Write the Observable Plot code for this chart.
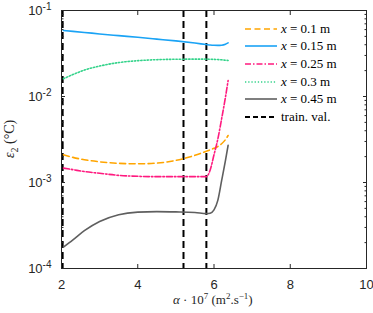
<!DOCTYPE html>
<html><head><meta charset="utf-8">
<script src="https://cdn.jsdelivr.net/npm/d3@7"></script>
<script src="https://cdn.jsdelivr.net/npm/@observablehq/plot@0.6"></script>
<style>
body{margin:0;background:#fff;}
#wrap{position:relative;width:373px;height:313px;overflow:hidden;}
#legend{position:absolute;left:245px;top:20px;font-family:"Liberation Serif","Times New Roman",serif;font-size:13px;color:#000;}
.row{height:17.6px;display:flex;align-items:center;white-space:nowrap;}
.row svg{margin-right:4px;}
.lab{position:absolute;font-family:"Liberation Serif","Times New Roman",serif;font-size:13px;color:#262626;white-space:nowrap;}
</style></head><body><div id="wrap"><div id="chart"></div><div id="legend"></div>
<div class="lab" id="xlab"><i>α</i> · 10<sup style="font-size:9px">7</sup> (m<sup style="font-size:9px">2</sup>.s<sup style="font-size:9px">−1</sup>)</div>
<div class="lab" id="ylab" style="font-size:14px"><i>ε</i><sub style="font-size:10px">2</sub> (°C)</div>
</div>
<script>
// alpha values (x axis, ×1e7 m²/s)
const alpha = [2.05, 2.3, 2.6, 3.0, 3.5, 4.0, 4.5, 5.0, 5.5, 5.8, 5.9, 6.0, 6.1, 6.2, 6.3, 6.37];
const eps_x010 = [0.00210,0.00196,0.00184,0.00174,0.00167,0.00165,0.00168,0.00181,0.00207,0.00231,0.00240,0.00250,0.00262,0.00282,0.00315,0.00352];
const eps_x015 = [0.0585,0.0572,0.0556,0.0534,0.0510,0.0488,0.0465,0.0443,0.0418,0.0402,0.0397,0.0394,0.0393,0.0395,0.0405,0.0420];
const eps_x025 = [0.00147,0.00141,0.00134,0.00128,0.00121,0.00118,0.00117,0.00117,0.00117,0.00117,0.00140,0.00210,0.00320,0.00550,0.00980,0.01530];
const eps_x030 = [0.0161,0.0180,0.0203,0.0226,0.0248,0.0261,0.0268,0.0271,0.0272,0.0272,0.0271,0.0270,0.0269,0.0267,0.0264,0.0262];
const eps_x045 = [0.000177,0.000215,0.000275,0.000352,0.000422,0.000452,0.000458,0.000455,0.000448,0.000435,0.000440,0.000480,0.000620,0.001050,0.001800,0.002700];
const trainVals = [2.03, 5.2, 5.8];

const seriesNames = ["x = 0.1 m", "x = 0.15 m", "x = 0.25 m", "x = 0.3 m", "x = 0.45 m"];
const seriesLabelsHtml = ["<i>x</i> = 0.1 m", "<i>x</i> = 0.15 m", "<i>x</i> = 0.25 m", "<i>x</i> = 0.3 m", "<i>x</i> = 0.45 m"];
const seriesValues = [eps_x010, eps_x015, eps_x025, eps_x030, eps_x045];
const seriesColors = ["#FFA500", "#1AA3F5", "#FF1A7F", "#33D38A", "#5F5F5F"];
const seriesDash = ["6,3.5", null, "6,2,1.5,2", "1.3,1.9", null];
const seriesWidth = [1.6, 1.6, 1.6, 1.6, 1.6];

const xTicks = [2, 4, 6, 8, 10];
const yTicks = [1e-4, 1e-3, 1e-2, 1e-1];
const yTickExp = ["-4", "-3", "-2", "-1"];
const yMinor = [];
for (const p of [1e-4, 1e-3, 1e-2]) for (let k = 2; k <= 9; k++) yMinor.push(p * k);

const lineMarks = seriesNames.map((name, s) => {
  const rows = alpha.map((a, i) => ({alpha: a, eps: seriesValues[s][i], series: name}));
  return Plot.line(rows, {x: "alpha", y: "eps", stroke: seriesColors[s], strokeWidth: seriesWidth[s],
    strokeDasharray: seriesDash[s] || undefined, curve: "monotone-x"});
});

const fmtY = d => "10^" + yTickExp[yTicks.indexOf(d)];
const blank = () => "";

const plot = Plot.plot({
  width: 373, height: 313,
  marginLeft: 61, marginRight: 7, marginTop: 10, marginBottom: 45,
  x: {domain: [2, 10]},
  y: {type: "log", domain: [1e-4, 1e-1]},
  style: {fontFamily: "'Liberation Sans', Arial, sans-serif", fontSize: "13px", color: "#262626", background: "#fff"},
  marks: [
    Plot.ruleX(trainVals, {stroke: "#000", strokeWidth: 2, strokeDasharray: "7,4"}),
    ...lineMarks,
    Plot.frame({stroke: "#262626", strokeWidth: 1}),
    Plot.axisX({ticks: xTicks, tickSize: -4, tickPadding: 15, tickFormat: d => String(d), label: null}),
    Plot.axisX({anchor: "top", ticks: xTicks, tickSize: -4, tickFormat: blank, label: null}),
    Plot.axisY({ticks: yTicks, tickSize: -4, tickPadding: 14, tickFormat: fmtY, label: null}),
    Plot.axisY({ticks: yMinor, tickSize: -2.5, tickFormat: blank, label: null}),
    Plot.axisY({anchor: "right", ticks: yTicks, tickSize: -4, tickFormat: blank, label: null}),
    Plot.axisY({anchor: "right", ticks: yMinor, tickSize: -2.5, tickFormat: blank, label: null})
  ]
});
document.getElementById("chart").appendChild(plot);

// turn "10^-k" tick labels into base + superscript
d3.select(plot).selectAll("text").each(function () {
  const t = d3.select(this);
  const s = t.text();
  if (s.startsWith("10^")) {
    const exp = s.slice(3);
    t.text("10");
    t.append("tspan").attr("dy", "-0.45em").attr("font-size", "10px").text(exp);
  }
});

// legend
const leg = document.getElementById("legend");
const NS = "http://www.w3.org/2000/svg";
function addRow(color, dash, width, html) {
  const row = document.createElement("div");
  row.className = "row";
  const svg = document.createElementNS(NS, "svg");
  svg.setAttribute("width", 32); svg.setAttribute("height", 6);
  const ln = document.createElementNS(NS, "line");
  ln.setAttribute("x1", 0); ln.setAttribute("x2", 32); ln.setAttribute("y1", 3); ln.setAttribute("y2", 3);
  ln.setAttribute("stroke", color); ln.setAttribute("stroke-width", width);
  if (dash) ln.setAttribute("stroke-dasharray", dash);
  svg.appendChild(ln);
  row.appendChild(svg);
  const t = document.createElement("span");
  t.innerHTML = html;
  row.appendChild(t);
  leg.appendChild(row);
}
seriesNames.forEach((n, s) => addRow(seriesColors[s], seriesDash[s], seriesWidth[s], seriesLabelsHtml[s]));
addRow("#000", "5,3", 2, "train. val.");

// axis labels
const xl = document.getElementById("xlab");
xl.style.left = (213 - xl.offsetWidth / 2) + "px";
xl.style.top = "291px";
const yl = document.getElementById("ylab");
yl.style.left = (11 - yl.offsetWidth / 2) + "px";
yl.style.top = (139 - yl.offsetHeight / 2) + "px";
yl.style.transform = "rotate(-90deg)";
</script></body></html>
